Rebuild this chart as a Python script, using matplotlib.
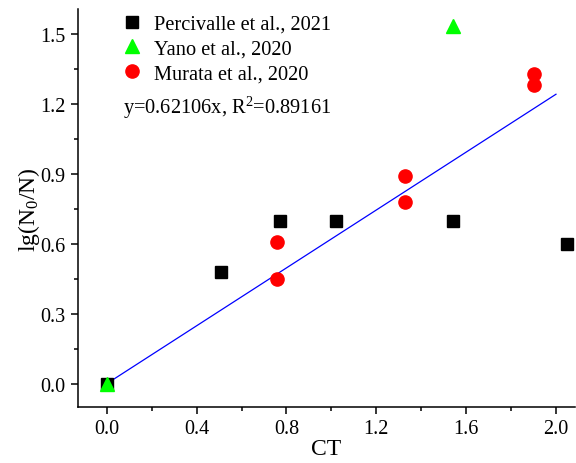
import numpy as np
import matplotlib
matplotlib.use('Agg')
import matplotlib.pyplot as plt
from matplotlib.ticker import MultipleLocator

# data
perc_x = [0.0, 0.51, 0.77, 1.02, 1.54, 2.05]
perc_y = [0.0, 0.48, 0.70, 0.70, 0.70, 0.60]
yano_x = [0.0, 1.54]
yano_y = [0.0, 1.535]
murata_x = [0.76, 0.76, 1.33, 1.33, 1.90, 1.90]
murata_y = [0.61, 0.45, 0.89, 0.78, 1.33, 1.28]
slope = 0.62106
fit_x = np.array([0.0, 2.0])

plt.rcParams['font.family'] = ['Liberation Serif', 'DejaVu Serif']
plt.rcParams['mathtext.fontset'] = 'custom'
plt.rcParams['mathtext.rm'] = 'Liberation Serif'
plt.rcParams['mathtext.it'] = 'Liberation Serif'

fig = plt.figure(figsize=(5.76, 4.64), dpi=100)
ax = fig.add_axes([0.1354, 0.1207, 0.8626, 0.8573])

ax.plot(fit_x, slope * fit_x, color='#0000ff', lw=0.9, zorder=2)
ax.plot(perc_x, perc_y, 's', color='black', ms=8, ls='none', label='Percivalle et al., 2021', zorder=3)
ax.plot(murata_x, murata_y, 'o', color='#ff0000', ms=9.5, ls='none', label='Murata et al., 2020', zorder=3)
ax.plot(yano_x, yano_y, '^', color='#00ff00', ms=10, ls='none', label='Yano et al., 2020', zorder=4)

ax.set_xlim(-0.128, 2.084)
ax.set_ylim(-0.1, 1.607)
ax.xaxis.set_major_locator(MultipleLocator(0.4))
ax.xaxis.set_minor_locator(MultipleLocator(0.2))
ax.yaxis.set_major_locator(MultipleLocator(0.3))
ax.yaxis.set_minor_locator(MultipleLocator(0.15))
ax.xaxis.set_major_formatter(plt.FormatStrFormatter('%.1f'))
ax.yaxis.set_major_formatter(plt.FormatStrFormatter('%.1f'))

for s in ['top', 'right']:
    ax.spines[s].set_visible(False)
for s in ['left', 'bottom']:
    ax.spines[s].set_linewidth(1.1)
ax.tick_params(which='major', direction='out', length=5, width=1.1, labelsize=14.5, pad=4)
ax.tick_params(which='minor', direction='out', length=3, width=1.1)

ax.set_xlabel('CT', fontsize=17, labelpad=0)
ax.set_ylabel(r'lg(N$_0$/N)', fontsize=17, labelpad=-1)

handles, labels = ax.get_legend_handles_labels()
order = [0, 2, 1]
ax.legend([handles[i] for i in order], [labels[i] for i in order],
          loc='upper left', bbox_to_anchor=(0.047, 1.033), frameon=False,
          fontsize=14.7, handletextpad=0.5, labelspacing=0.27, handlelength=1.2)

ax.text(0.0905, 0.754, r'y=0.62106x, R$^2$=0.89161', transform=ax.transAxes,
        fontsize=14.7, va='center', ha='left')

fig.savefig('out.png', dpi=100)
